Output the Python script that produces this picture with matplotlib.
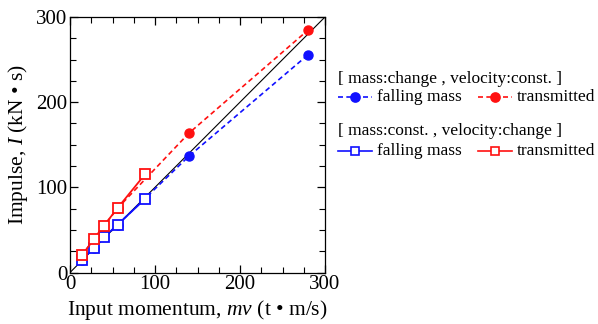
import matplotlib
matplotlib.use("Agg")
import matplotlib.pyplot as plt
from matplotlib.lines import Line2D
from matplotlib.ticker import MultipleLocator

plt.rcParams["font.family"] = ["Liberation Serif", "DejaVu Serif"]
plt.rcParams["mathtext.fontset"] = "custom"
plt.rcParams["mathtext.it"] = "Liberation Serif:italic"
plt.rcParams["mathtext.rm"] = "Liberation Serif"

# mass changes, velocity constant
mv_mass = [14, 28, 56, 140, 280]
falling_mass_m = [14.5, 28.5, 56, 136.7, 255.6]
transmitted_m = [20, 39, 75.5, 163.7, 284.6]

# mass constant, velocity changes
mv_vel = [14, 28, 39.6, 56, 88.5]
falling_mass_v = [14.7, 28.8, 41.3, 56.1, 86.6]
transmitted_v = [20.2, 39, 54.6, 75.7, 115.6]

W, H = 598, 324
fig = plt.figure(figsize=(W / 100, H / 100), dpi=100)
ax = fig.add_axes([70 / W, 1 - 272.5 / H, 255 / W, 255.5 / H])

ax.plot([0, 300], [0, 300], color="black", lw=0.8, zorder=1)

ax.plot(mv_mass, falling_mass_m, ls=(0, (3, 2)), color="#1010ff", lw=1.2,
        marker="o", ms=6.5, zorder=2)
ax.plot(mv_mass, transmitted_m, ls=(0, (3, 2)), color="#ff1010", lw=1.2,
        marker="o", ms=6.5, zorder=2)
ax.plot(mv_vel, falling_mass_v, ls="-", color="#1010ff", lw=1.3,
        marker="s", ms=7.5, mfc="white", mew=1.3, zorder=3)
ax.plot(mv_vel, transmitted_v, ls="-", color="#ff1010", lw=1.3,
        marker="s", ms=7.5, mfc="white", mew=1.3, zorder=3)

ax.set_xlim(0, 300)
ax.set_ylim(0, 300)
ax.xaxis.set_major_locator(MultipleLocator(100))
ax.yaxis.set_major_locator(MultipleLocator(100))
ax.xaxis.set_minor_locator(MultipleLocator(25))
ax.yaxis.set_minor_locator(MultipleLocator(25))
ax.tick_params(which="both", direction="in", top=True, right=True,
               labelsize=15, pad=2)
ax.tick_params(which="major", length=6, width=0.9)
ax.tick_params(which="minor", length=4, width=0.8)
for sp in ax.spines.values():
    sp.set_linewidth(0.9)

ax.set_xlabel("Input momentum, $mv$ (t \u2022 m/s)", fontsize=15.5, labelpad=3)
ax.set_ylabel("Impulse, $I$ (kN \u2022 s)", fontsize=15.5, labelpad=4)


def fx(px):
    return px / W


def fy(py):
    return 1 - py / H


def legend_item(x0, y, color, ls, marker, mfc, label):
    fig.add_artist(Line2D([fx(x0), fx(x0 + 34)], [fy(y), fy(y)], color=color,
                          ls=ls, lw=1.2, transform=fig.transFigure))
    fig.add_artist(Line2D([fx(x0 + 17)], [fy(y)], color=color, marker=marker,
                          ms=6.5 if marker == "o" else 6, mfc=mfc, mew=1.2,
                          transform=fig.transFigure))
    fig.text(fx(x0 + 39), fy(y), label, fontsize=12.5, va="center", ha="left")


fig.text(fx(338), fy(79), "[ mass:change , velocity:const. ]", fontsize=12.5,
         va="center", ha="left")
legend_item(338, 97, "#1010ff", (0, (3, 2)), "o", "#1010ff", "falling mass")
legend_item(478, 97, "#ff1010", (0, (3, 2)), "o", "#ff1010", "transmitted")

fig.text(fx(338), fy(131), "[ mass:const. , velocity:change ]", fontsize=12.5,
         va="center", ha="left")
legend_item(338, 151, "#1010ff", "-", "s", "white", "falling mass")
legend_item(478, 151, "#ff1010", "-", "s", "white", "transmitted")

fig.savefig("out.png", dpi=100)
